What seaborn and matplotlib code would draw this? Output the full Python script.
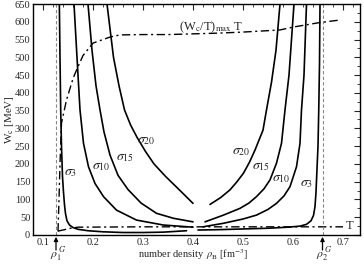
import matplotlib
matplotlib.use("Agg")
import matplotlib.pyplot as plt
import seaborn as sns
import pandas as pd
from matplotlib.ticker import MultipleLocator

# ---- data ----
s3_left_x = [0.1327, 0.1340, 0.1354, 0.1370, 0.1390, 0.1410, 0.1430, 0.1450, 0.1480, 0.1530, 0.160, 0.170, 0.190, 0.220, 0.260, 0.300, 0.340, 0.387]
s3_left_w = [650, 500, 352, 250, 164, 120, 85, 60, 40, 28, 21, 16, 12, 9, 7, 7, 8, 12]
s3_right_x = [0.410, 0.450, 0.500, 0.550, 0.590, 0.614, 0.627, 0.636, 0.641, 0.644, 0.646, 0.6475, 0.650, 0.6515, 0.653, 0.654]
s3_right_w = [14, 15, 17, 19, 22, 25, 30, 40, 55, 80, 120, 170, 250, 352, 480, 650]

s10_left_x = [0.162, 0.166, 0.170, 0.174, 0.181, 0.191, 0.204, 0.221, 0.247, 0.287, 0.341, 0.400]
s10_left_w = [650, 550, 450, 352, 258, 192, 145, 108, 70, 42, 28, 22]
s10_right_x = [0.420, 0.461, 0.500, 0.527, 0.550, 0.567, 0.582, 0.594, 0.607, 0.614, 0.617, 0.622, 0.627]
s10_right_w = [23, 33, 45, 56, 72, 89, 110, 136, 192, 258, 352, 450, 650]

s15_left_x = [0.190, 0.198, 0.206, 0.214, 0.222, 0.234, 0.250, 0.270, 0.296, 0.327, 0.361, 0.400]
s15_left_w = [650, 520, 420, 352, 290, 225, 168, 128, 90, 61, 47, 37]
s15_right_x = [0.424, 0.461, 0.494, 0.512, 0.527, 0.542, 0.554, 0.567, 0.577, 0.584, 0.592, 0.602]
s15_right_w = [37, 56, 75, 90, 108, 130, 155, 202, 258, 352, 450, 650]

s20_left_x = [0.228, 0.241, 0.252, 0.263, 0.275, 0.288, 0.305, 0.322, 0.345, 0.372, 0.400]
s20_left_w = [650, 500, 420, 352, 310, 275, 235, 200, 165, 128, 89]
s20_right_x = [0.434, 0.455, 0.474, 0.488, 0.501, 0.513, 0.524, 0.540, 0.547, 0.557, 0.566, 0.574]
s20_right_w = [86, 105, 127, 150, 174, 205, 239, 295, 352, 430, 520, 650]

wmax_x = [0.130, 0.132, 0.134, 0.137, 0.147, 0.160, 0.167, 0.180, 0.200, 0.234, 0.254, 0.300, 0.350, 0.400, 0.450, 0.500, 0.550, 0.574, 0.600, 0.650, 0.694]
wmax_w = [10, 100, 200, 315, 380, 440, 464, 505, 540, 557, 563, 564, 564, 566, 568, 571, 575, 577, 585, 597, 605]

t_x = [0.130, 0.140, 0.155, 0.170, 0.300, 0.500, 0.700]
t_w = [11, 14, 19, 22, 23, 23, 23]

rho1, rho2 = 0.126, 0.659

sigma_labels = [r"$\sigma_3$", r"$\sigma_{10}$", r"$\sigma_{15}$", r"$\sigma_{20}$",
                r"$\sigma_{20}$", r"$\sigma_{15}$", r"$\sigma_{10}$", r"$\sigma_3$"]
sigma_lx = [0.156, 0.217, 0.264, 0.307, 0.496, 0.537, 0.577, 0.628]
sigma_lw = [175, 192, 218, 267, 236, 192, 160, 145]

xticks = [0.1, 0.2, 0.3, 0.4, 0.5, 0.6, 0.7]
yticks = [0, 50, 100, 150, 200, 250, 300, 350, 400, 450, 500, 550, 600, 650]

# ---- style ----
sns.set_theme(style="white")
plt.rcParams["font.family"] = ["Liberation Serif", "DejaVu Serif"]
plt.rcParams["mathtext.fontset"] = "stix"

fig = plt.figure(figsize=(3.64, 2.65), dpi=100)
ax = fig.add_axes([33 / 364, 30 / 265, 327 / 364, 231 / 265])

branches = [
    (s3_left_x, s3_left_w), (s3_right_x, s3_right_w),
    (s10_left_x, s10_left_w), (s10_right_x, s10_right_w),
    (s15_left_x, s15_left_w), (s15_right_x, s15_right_w),
    (s20_left_x, s20_left_w), (s20_right_x, s20_right_w),
]
for bx, bw in branches:
    df = pd.DataFrame({"x": bx, "w": bw})
    sns.lineplot(data=df, x="x", y="w", sort=False, color="black", lw=1.2, ax=ax)

dashdot = (0, (6, 2.5, 1.5, 2.5))
sns.lineplot(x=wmax_x, y=wmax_w, sort=False, color="black", lw=1.0, ax=ax, linestyle=dashdot)
sns.lineplot(x=t_x, y=t_w, sort=False, color="black", lw=1.0, ax=ax, linestyle=dashdot)

for r in (rho1, rho2):
    ax.axvline(r, color="#888888", lw=0.8, linestyle=(0, (3, 2)))
    ax.annotate("", xy=(r, -0.008), xytext=(r, -0.065),
                xycoords=("data", "axes fraction"), textcoords=("data", "axes fraction"),
                arrowprops=dict(arrowstyle="-|>", color="black", lw=0.9, mutation_scale=6,
                                shrinkA=0, shrinkB=0),
                annotation_clip=False)
for r, lab in ((rho1, r"$\rho_1^{\;G}$"), (rho2, r"$\rho_2^{\;G}$")):
    ax.text(r + 0.004, -0.100, lab, transform=ax.get_xaxis_transform(),
            ha="center", va="baseline", fontsize=8.5)

for lab, lx, lw_ in zip(sigma_labels, sigma_lx, sigma_lw):
    ax.text(lx, lw_, lab, ha="center", va="center", fontsize=10)

ax.text(0.436, 585, r"(W$_{\rm c}$/T)$_{\rm max}$ T", ha="center", va="center", fontsize=9)
ax.text(0.706, 26, "T", ha="left", va="center", fontsize=9)

ax.set_xlim(0.08, 0.734)
ax.set_ylim(0, 650)
ax.set_xticks(xticks)
ax.set_yticks(yticks)
ax.xaxis.set_minor_locator(MultipleLocator(0.02))
ax.yaxis.set_minor_locator(MultipleLocator(25))
ax.tick_params(which="both", direction="in", top=True, right=True, labelsize=7.5, pad=2)
ax.tick_params(which="major", length=4, width=0.8)
ax.tick_params(which="minor", length=2, width=0.6)
for s in ax.spines.values():
    s.set_color("black")
    s.set_linewidth(1.0)

ax.set_xlabel(r"number density $\,\rho_{\rm B}$ [fm$^{-3}$]", fontsize=7.5)
ax.xaxis.label.set_va("baseline")
ax.xaxis.set_label_coords(0.49, -0.098)
ax.set_ylabel(r"W$_{\rm c}$ [MeV]", fontsize=8)
ax.yaxis.label.set_va("center")
ax.yaxis.set_label_coords(-0.072, 0.5)

fig.savefig("out.png", dpi=100)
